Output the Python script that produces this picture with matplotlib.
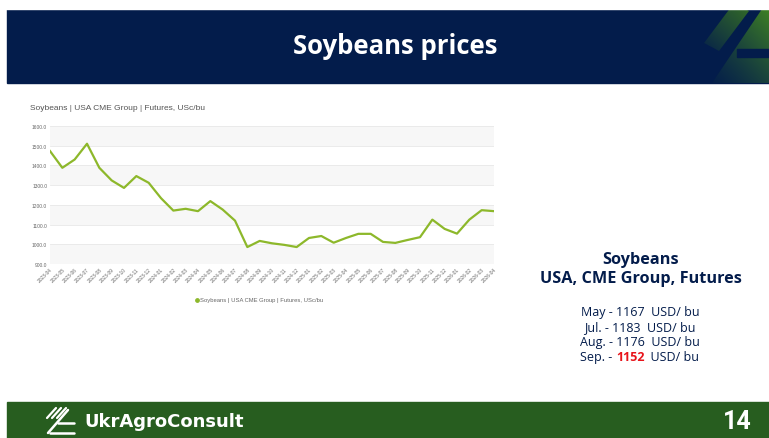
import matplotlib
matplotlib.use("Agg")
import matplotlib.pyplot as plt
import numpy as np
from matplotlib.patches import Rectangle, Polygon, PathPatch
from matplotlib.path import Path

# ---------------- data ----------------
months = ["2023-04", "2023-05", "2023-06", "2023-07", "2023-08", "2023-09", "2023-10",
          "2023-11", "2023-12", "2024-01", "2024-02", "2024-03", "2024-04", "2024-05",
          "2024-06", "2024-07", "2024-08", "2024-09", "2024-10", "2024-11", "2024-12",
          "2025-01", "2025-02", "2025-03", "2025-04", "2025-05", "2025-06", "2025-07",
          "2025-08", "2025-09", "2025-10", "2025-11", "2025-12", "2026-01", "2026-02",
          "2026-03", "2026-04"]
prices = [1473, 1388, 1430, 1510, 1388, 1324, 1286, 1346, 1312, 1234, 1171, 1180,
          1168, 1219, 1176, 1120, 986, 1017, 1005, 997, 986, 1032, 1042, 1008,
          1032, 1053, 1053, 1012, 1007, 1022, 1036, 1125, 1078, 1054, 1125, 1173, 1168]
y_ticks = [900, 1000, 1100, 1200, 1300, 1400, 1500, 1600]

series_name = "Soybeans | USA CME Group | Futures, USc/bu"
slide_title = "Soybeans prices"
side_title = ["Soybeans", "USA, CME Group, Futures"]
side_months = ["May", "Jul.", "Aug.", "Sep."]
side_values = ["1167", "1183", "1176", "1152"]
page_no = "14"

NAVY = "#031c4b"
GREEN_BAR = "#275d1f"
LINE = "#8db82b"
OPEN = ["Open Sans", "DejaVu Sans"]
ARIAL = ["Liberation Sans", "DejaVu Sans"]

W, H = 769, 439
fig = plt.figure(figsize=(W / 100, H / 100), dpi=100)
fig.patch.set_facecolor("white")

# --------- background / decoration layer in pixel coords ---------
bg = fig.add_axes([0, 0, 1, 1], zorder=0)
bg.set_xlim(0, W)
bg.set_ylim(H, 0)
bg.axis("off")

# header band
bg.add_patch(Rectangle((7, 10), W - 7, 74, color=NAVY, zorder=1))
# header decoration (gradient shapes on the right)
grad = np.linspace(0, 1, 200)
gx, gy = np.meshgrid(grad, grad)
c0 = np.array([3, 28, 75]) / 255.0
g = np.clip((gx + (1 - gy)) / 2.0, 0, 1) ** 1.4
c1 = np.array([62, 128, 36]) / 255.0
img = c0[None, None, :] * (1 - g[..., None]) + c1[None, None, :] * g[..., None]
poly = Polygon([(712, 84), (762, 10), (769, 10), (769, 84)], closed=True,
               facecolor="none", edgecolor="none", zorder=2)
bg.add_patch(poly)
im = bg.imshow(img, extent=(700, 769, 84, 10), zorder=2, aspect="auto")
im.set_clip_path(poly)
bg.add_patch(Rectangle((737, 50), 32, 8, color=NAVY, zorder=3))
# rounded stripe with gradient
sp = Path([(704, 44), (734, 4), (749, 12), (719, 52), (704, 44)])
sp_patch = PathPatch(sp, facecolor="none", edgecolor="none", zorder=2)
bg.add_patch(sp_patch)
g2 = np.clip((gx + (1 - gy)) / 2.0, 0, 1) ** 1.0
c2 = np.array([50, 105, 40]) / 255.0
img2 = c0[None, None, :] * (1 - g2[..., None]) + c2[None, None, :] * g2[..., None]
im2 = bg.imshow(img2, extent=(700, 750, 56, 10), zorder=2, aspect="auto")
im2.set_clip_path(sp_patch)
bg.add_patch(Rectangle((0, 0), W, 10, color="white", zorder=4))

bg.text(395, 47, slide_title, color="white", fontsize=18.5, fontweight="bold",
        family=OPEN, ha="center", va="center", zorder=5)

# footer band
bg.add_patch(Rectangle((7, 403), W - 7, 36, color=GREEN_BAR, zorder=1))
# footer logo icon
for dx in (0, 5, 10):
    bg.plot([47 + dx, 56 + dx], [419, 409], color="white", lw=1.6,
            solid_capstyle="round", zorder=3)
bg.plot([48, 68], [434, 411], color="white", lw=1.8, solid_capstyle="round", zorder=3)
bg.plot([58, 74], [424, 424], color="white", lw=1.8, solid_capstyle="round", zorder=3)
bg.plot([50, 74], [434, 434], color="white", lw=1.8, solid_capstyle="round", zorder=3)
bg.text(84, 422, "UkrAgroConsult", color="white", fontsize=13, fontweight="bold",
        family=["DejaVu Sans"], ha="left", va="center", zorder=5)
bg.text(737, 422, page_no, color="white", fontsize=18, fontweight="bold",
        family=["Roboto", "DejaVu Sans"], ha="center", va="center", zorder=5)

# right-side text
bg.text(641, 260, side_title[0], color=NAVY, fontsize=11.7, fontweight="bold",
        family=OPEN, ha="center", va="center", zorder=5)
bg.text(641, 279, side_title[1], color=NAVY, fontsize=11.7, fontweight="bold",
        family=OPEN, ha="center", va="center", zorder=5)
FS = 9
for i, (m, v) in enumerate(zip(side_months, side_values)):
    yy = 313 + i * 15
    if i < len(side_months) - 1:
        bg.text(640, yy, f"{m} - {v}  USD/ bu", color=NAVY, fontsize=FS,
                family=OPEN, ha="center", va="center", zorder=5)
    else:
        parts = [(f"{m} - ", NAVY, "normal"), (v, "#e8141b", "bold"), ("  USD/ bu", NAVY, "normal")]
        arts = []
        for txt, col, fw in parts:
            arts.append(bg.text(0, yy, txt, color=col, fontsize=FS, fontweight=fw,
                                family=OPEN, ha="left", va="center", zorder=5))
        fig.canvas.draw()
        r = fig.canvas.get_renderer()
        widths = [a.get_window_extent(r).width for a in arts]
        total = sum(widths)
        xx = 640 - total / 2
        for a, w in zip(arts, widths):
            a.set_x(xx)
            xx += w

# chart title and legend
bg.text(30, 109, series_name, color="#555555", fontsize=6,
        family=ARIAL, ha="left", va="center", zorder=5)
bg.scatter([197], [301], s=6, color=LINE, zorder=5)
bg.text(200, 301, series_name, color="#666666", fontsize=4.2,
        family=ARIAL, ha="left", va="center", zorder=5)

# ---------------- chart axes ----------------
left = 50 / W
right = 494 / W
top = 1 - 127 / H
bottom = 1 - 265 / H
ax = fig.add_axes([left, bottom, right - left, top - bottom], zorder=3)
ax.patch.set_alpha(0)
x = np.arange(len(prices))
ax.plot(x, prices, color=LINE, lw=1.6, zorder=4)
ax.set_xlim(0, len(prices) - 1)
ax.set_ylim(900, 1600)
for k, (a, b) in enumerate(zip(y_ticks[:-1], y_ticks[1:])):
    if k % 2 == 0:
        ax.axhspan(a, b, color="#f7f7f7", zorder=0, lw=0)
ax.set_yticks(y_ticks)
ax.set_yticklabels([f"{v:.1f}" for v in y_ticks], fontsize=3.5, color="#666666",
                   family=ARIAL)
ax.set_xticks(x)
ax.set_xticklabels(months, rotation=45, ha="right", rotation_mode="anchor",
                   fontsize=3.5, color="#666666", family=ARIAL)
ax.grid(axis="y", color="#e8e8e8", lw=0.6, zorder=1)
ax.tick_params(length=0, pad=2)
for s in ax.spines.values():
    s.set_visible(False)

fig.savefig("out.png", dpi=100)
